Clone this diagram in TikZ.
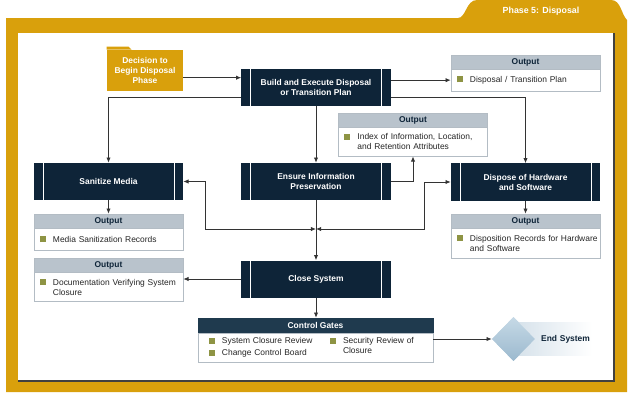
\documentclass[tikz,border=0pt]{standalone}
\usepackage{fontspec}
\setmainfont{Liberation Sans}
\usetikzlibrary{arrows.meta, positioning, shapes.geometric, calc}

\definecolor{gold}{HTML}{D9A00C}
\definecolor{navy}{HTML}{0E2438}
\definecolor{gatehead}{HTML}{1F3A4E}
\definecolor{outhead}{HTML}{B9C3CC}
\definecolor{outline}{HTML}{B3BCC4}
\definecolor{bullet}{HTML}{8E9444}
\definecolor{wire}{HTML}{333333}
\definecolor{diaA}{HTML}{C6D9E6}
\definecolor{diaB}{HTML}{9BB9CE}
\definecolor{bandA}{HTML}{D5E1EA}

\newcommand{\boxfont}{\fontsize{6}{7.1}\selectfont}
\newcommand{\outitem}[2][3.3cm]{\makebox[0.325cm][l]{\textcolor{bullet}{\rule{0.15cm}{0.15cm}}}\parbox[t]{#1}{\raggedright #2}}

\begin{document}
\begin{tikzpicture}[
    x=0.025cm, y=-0.025cm,
    navybox/.style={
        rectangle, fill=navy, text=white,
        minimum width=3.725cm, minimum height=0.925cm,
        font=\boxfont\bfseries, align=center,
        path picture={
            \draw[white, line width=0.5pt]
                ([xshift=0.225cm]path picture bounding box.north west) --
                ([xshift=0.225cm]path picture bounding box.south west)
                ([xshift=-0.225cm]path picture bounding box.north east) --
                ([xshift=-0.225cm]path picture bounding box.south east);
        }
    },
    head/.style={
        rectangle, draw=outline, fill=outhead, text=navy,
        minimum width=3.725cm, minimum height=0.35cm, inner sep=0pt,
        font=\boxfont\bfseries
    },
    body/.style={
        rectangle, draw=outline, fill=white, text=black!85,
        minimum width=3.725cm, minimum height=0.55cm,
        text width=3.425cm, inner xsep=0.15cm, inner ysep=1pt,
        font=\boxfont, align=left, anchor=north
    },
    flow/.style={-{Latex[length=1.3mm, width=1.1mm]}, wire, line width=0.6pt},
    twoway/.style={{Latex[length=1.3mm, width=1.1mm]}-{Latex[length=1.3mm, width=1.1mm]}, wire, line width=0.6pt}
]

\useasboundingbox (0,0) rectangle (636,402);

% === RAM ===

\fill[gold] (6,392) -- (6,18) -- (458,18)
    .. controls (466,18) and (466,0) .. (477,0) -- (611,0)
    .. controls (621,0) and (621,14) .. (627,20) -- (627,392) -- cycle;
\fill[white] (18,33) rectangle (614,381);
\draw[black!75, line width=1pt] (18,381) -- (614,381) -- (614,33);
\node[text=white, font=\fontsize{6.3}{7}\selectfont\bfseries] (phase) at (541,11) {Phase 5: Disposal};

% === START ===

\node[rectangle, fill=gold, text=white, minimum width=1.9cm, minimum height=1.025cm,
      inner sep=1pt, align=center, font=\boxfont\bfseries] (dec) at (145,70.5)
      {Decision to\\Begin Disposal\\Phase};
\fill[gold] (dec.north west) -- ++(0,-3) -- ++(22,0) -- ++(3,3) -- cycle;

\node[navybox] (build) at (316,87.5) {Build and Execute Disposal\\or Transition Plan};

\node[head] (o1h) at (525.5,62) {Output};
\node[body, below=-0.3pt of o1h] (o1b) {\outitem{Disposal / Transition Plan}};

% === PROCESY ===

\node[head] (o2h) at (413,120) {Output};
\node[body, below=-0.3pt of o2h, minimum height=0.725cm] (o2b)
    {\outitem{Index of Information, Location,\\and Retention Attributes}};

\node[navybox] (san) at (108.5,181.5) {Sanitize Media};
\node[navybox] (ens) at (316,181.5) {Ensure Information\\Preservation};
\node[navybox] (disp) at (525.5,182) {Dispose of Hardware\\and Software};

\node[head] (o3h) at (108.5,221) {Output};
\node[body, below=-0.3pt of o3h] (o3b) {\outitem{Media Sanitization Records}};

\node[head] (o4h) at (525.5,221) {Output};
\node[body, below=-0.3pt of o4h, minimum height=0.75cm] (o4b)
    {\outitem{Disposition Records for Hardware\\and Software}};

% === UZAVRENI ===

\node[navybox] (close) at (316,279) {Close System};

\node[head] (o5h) at (108.5,265.5) {Output};
\node[body, below=-0.3pt of o5h, minimum height=0.725cm] (o5b)
    {\outitem{Documentation Verifying System\\Closure}};

\node[head, fill=gatehead, draw=gatehead, text=white, minimum width=5.875cm,
      minimum height=0.375cm] (gh) at (315.5,325.5) {Control Gates};
\node[body, below=-0.3pt of gh, minimum width=5.875cm, text width=5.325cm,
      inner xsep=0.275cm, minimum height=0.725cm] (gb)
    {\parbox[t]{3.025cm}{\outitem[2.7cm]{System Closure Review}\\[1.4pt]\outitem[2.7cm]{Change Control Board}}%
     \parbox[t]{2.3cm}{\outitem[1.975cm]{Security Review of\\Closure}}};

\node[diamond, top color=diaA, bottom color=diaB, minimum width=1.075cm,
      minimum height=1.1cm, inner sep=0pt] (dia) at (513.5,339) {};
\node[anchor=west, left color=bandA, right color=white, text width=1.85cm,
      align=right, inner xsep=1.5pt, minimum height=0.825cm, text=navy,
      font=\boxfont\bfseries] (endsys) at (dia.center) {End System};
\node[diamond, top color=diaA, bottom color=diaB, minimum width=1.075cm,
      minimum height=1.1cm, inner sep=0pt] at (dia.center) {};

% === SPOJENI ===

\coordinate (decout) at ([yshift=-0.18cm]dec.east);
\draw[flow] (decout) -- (decout -| build.west);
\draw[flow] (o1b.west -| build.east) -- (o1b.west);
\draw[flow] ([yshift=-0.24cm]build.west) -| (san.north);
\draw[flow] ([yshift=-0.24cm]build.east) -| (disp.north);
\draw[flow] (build.south) -- (ens.north);
\draw[flow] (ens.east) -| (o2b.south);

\draw[flow] (san.south) -- (o3h.north);
\draw[flow] (disp.south) -- (o4h.north);

\coordinate (jn) at (316,229);
\draw[twoway] (san.east) -- ++(22,0) |- (jn);
\draw[twoway] (disp.west) -- ++(-26,0) |- (jn);
\draw[flow] (ens.south) -- (close.north);

\draw[flow] (close.west) -- (close.west -| o5b.east);
\draw[flow] (close.south) -- (close.south |- gh.north);
\draw[flow] (dia.west -| gb.east) -- (dia.west);

\end{tikzpicture}
\end{document}
